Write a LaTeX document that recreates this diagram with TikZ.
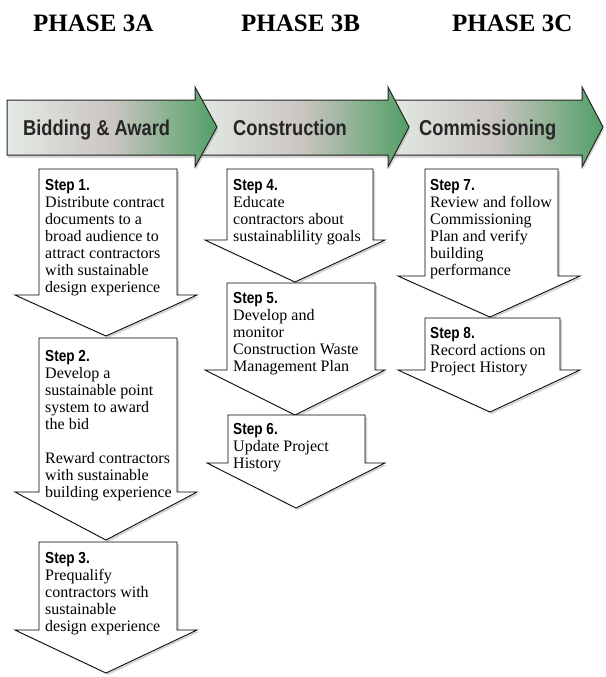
\documentclass[tikz,border=0pt]{standalone}
\usepackage{fontspec}
\setmainfont{Liberation Serif}
\newfontfamily\labelfont[FakeStretch=0.85]{Liberation Sans}
\usetikzlibrary{shadows}

\definecolor{bannerlight}{HTML}{E3E9E3}
\definecolor{bannermid}{HTML}{CBC5C2}
\definecolor{bannergreen}{HTML}{529F66}

\tikzset{
  banner/.style={draw=black!85,line width=1pt,left color=bannerlight,right color=bannergreen,middle color=bannermid,
    drop shadow={shadow xshift=1pt,shadow yshift=-3pt,opacity=0.3}},
  steparrow/.style={draw=black,line width=0.8pt,fill=white,
    drop shadow={shadow xshift=2pt,shadow yshift=-2pt,opacity=0.35}},
  phase/.style={font=\fontsize{25}{30}\selectfont\bfseries,inner sep=0pt,anchor=base west},
  bannertext/.style={font=\labelfont\fontsize{21.5}{26}\selectfont\bfseries,text=black!85,inner sep=0pt,anchor=base west},
  steptext/.style={font=\fontsize{16}{17}\selectfont,align=left,inner sep=0pt,anchor=north west}
}
\newcommand{\steplabel}[1]{{\labelfont\bfseries #1}}

\begin{document}
\begin{tikzpicture}[x=1pt,y=-1pt]
\useasboundingbox (0,0) rectangle (605,677);

% phase titles
\node[phase] (phaseA) at (33,32) {PHASE 3A};
\node[phase] (phaseB) at (241,32) {PHASE 3B};
\node[phase] (phaseC) at (452,32) {PHASE 3C};

% banner, drawn right to left so each head lies on the next shaft
\filldraw[banner] (388,100) -- (582,100) -- (582,87) -- (603,127) -- (582,167) -- (582,155) -- (388,155) -- cycle;
\filldraw[banner] (195,100) -- (388,100) -- (388,87) -- (409,127) -- (388,167) -- (388,155) -- (195,155) -- cycle;
\filldraw[banner] (7,100) -- (195,100) -- (195,87) -- (217,127) -- (195,167) -- (195,155) -- (7,155) -- cycle;
\node[bannertext] (bidding) at (23,135) {Bidding \& Award};
\node[bannertext] (construction) at (233,135) {Construction};
\node[bannertext] (commissioning) at (419,135) {Commissioning};

% phase 3A
\filldraw[steparrow] (39,169) -- (177,169) -- (177,295) -- (197,295) -- (106,336) -- (15,295) -- (39,295) -- cycle;
\filldraw[steparrow] (39,338) -- (177,338) -- (177,492) -- (197,492) -- (106,540) -- (15,492) -- (39,492) -- cycle;
\filldraw[steparrow] (39,542) -- (177,542) -- (177,630) -- (197,630) -- (106,673) -- (15,630) -- (39,630) -- cycle;
\node[steptext] (step1) at (45,179) {\steplabel{Step 1.}\\Distribute contract\\documents to a\\broad audience to\\attract contractors\\with sustainable\\design experience};
\node[steptext] (step2) at (45,350) {\steplabel{Step 2.}\\Develop a\\sustainable point\\system to award\\the bid\\[17pt]Reward contractors\\with sustainable\\building experience};
\node[steptext] (step3) at (45,552) {\steplabel{Step 3.}\\Prequalify\\contractors with\\sustainable\\design experience};

% phase 3B
\filldraw[steparrow] (227,169) -- (373,169) -- (373,240) -- (385,240) -- (295,282) -- (205,240) -- (227,240) -- cycle;
\filldraw[steparrow] (227,283) -- (375,283) -- (375,370) -- (385,370) -- (295,415) -- (205,370) -- (227,370) -- cycle;
\filldraw[steparrow] (228,415) -- (365,415) -- (365,463) -- (385,463) -- (296,508) -- (207,463) -- (228,463) -- cycle;
\node[steptext] (step4) at (233,179) {\steplabel{Step 4.}\\Educate\\contractors about\\sustainablility goals};
\node[steptext] (step5) at (233,292) {\steplabel{Step 5.}\\Develop and\\monitor\\Construction Waste\\Management Plan};
\node[steptext] (step6) at (233,423) {\steplabel{Step 6.}\\Update Project\\History};

% phase 3C
\filldraw[steparrow] (425,169) -- (558,169) -- (558,276) -- (580,276) -- (490,317) -- (398,276) -- (425,276) -- cycle;
\filldraw[steparrow] (425,318) -- (560,318) -- (560,370) -- (580,370) -- (490,412) -- (398,370) -- (425,370) -- cycle;
\node[steptext] (step7) at (430,179) {\steplabel{Step 7.}\\Review and follow\\Commissioning\\Plan and verify\\building\\performance};
\node[steptext] (step8) at (430,327) {\steplabel{Step 8.}\\Record actions on\\Project History};
\end{tikzpicture}
\end{document}
